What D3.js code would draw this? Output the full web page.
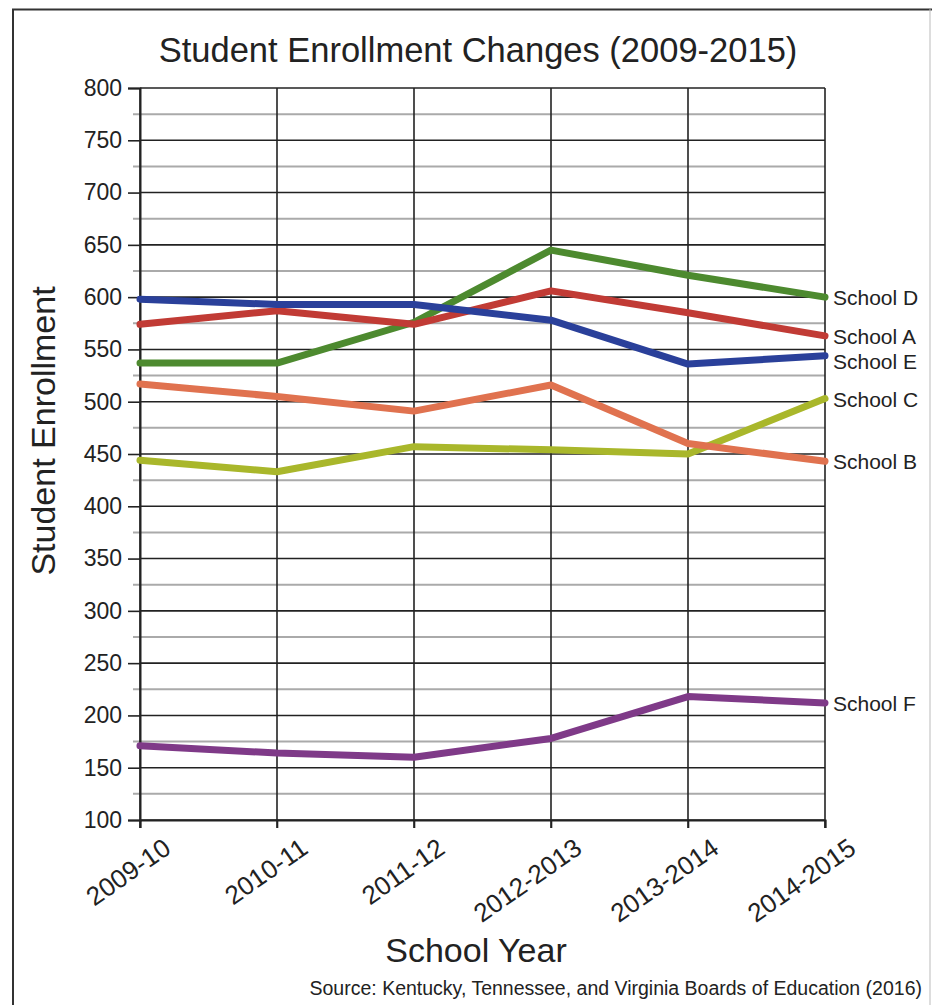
<!DOCTYPE html>
<html>
<head>
<meta charset="utf-8">
<script src="https://cdn.jsdelivr.net/npm/d3@7"></script>
<style>
  html, body { margin: 0; padding: 0; background: #fff; }
  svg { display: block; font-family: "Liberation Sans", Arial, Helvetica, sans-serif; }
</style>
</head>
<body>
<svg id="chart" width="932" height="1005"></svg>
<script>
// School years on the x axis
const years = ["2009-10", "2010-11", "2011-12", "2012-2013", "2013-2014", "2014-2015"];

// Enrollment per school, one value per school year
const schoolA = [574, 587, 574, 606, 585, 563];
const schoolB = [517, 505, 491, 516, 460, 443];
const schoolC = [444, 433, 457, 454, 450, 503];
const schoolD = [537, 537, 576, 645, 621, 600];
const schoolE = [598, 593, 593, 578, 536, 544];
const schoolF = [171, 164, 160, 178, 218, 212];

const seriesNames = ["School D", "School A", "School E", "School C", "School B", "School F"];
const seriesValues = [schoolD, schoolA, schoolE, schoolC, schoolB, schoolF];
const seriesColors = ["#4d8a2f", "#c13b35", "#2a409a", "#a9b72b", "#e0724f", "#7f3a88"];

// y axis ticks
const majorTicks = d3.range(100, 801, 50);
const minorTicks = d3.range(125, 800, 50);

const svg = d3.select("#chart");
const FONT = "Liberation Sans, Arial, sans-serif";

// outer frame
svg.append("line").attr("x1", 13).attr("x2", 13).attr("y1", 9).attr("y2", 1005)
  .attr("stroke", "#333").attr("stroke-width", 2);
svg.append("line").attr("x1", 12).attr("x2", 932).attr("y1", 9.5).attr("y2", 9.5)
  .attr("stroke", "#333").attr("stroke-width", 2);
svg.append("line").attr("x1", 930).attr("x2", 930).attr("y1", 9).attr("y2", 1005)
  .attr("stroke", "#bbb").attr("stroke-width", 1);

const plotLeft = 140, plotRight = 825, plotTop = 88, plotBottom = 820;

const x = d3.scalePoint().domain(years).range([plotLeft, plotRight]);
const y = d3.scaleLinear().domain([100, 800]).range([plotBottom, plotTop]);

const grid = svg.append("g");

// minor horizontal gridlines
grid.selectAll("line.minor").data(minorTicks).join("line")
  .attr("class", "minor")
  .attr("x1", plotLeft - 7).attr("x2", plotRight)
  .attr("y1", d => y(d)).attr("y2", d => y(d))
  .attr("stroke", "#aaa").attr("stroke-width", 2);

// major horizontal gridlines
grid.selectAll("line.major").data(majorTicks).join("line")
  .attr("class", "major")
  .attr("x1", plotLeft).attr("x2", plotRight)
  .attr("y1", d => y(d)).attr("y2", d => y(d))
  .attr("stroke", "#222").attr("stroke-width", 1.6);

// vertical gridlines at each school year
grid.selectAll("line.vert").data(years).join("line")
  .attr("class", "vert")
  .attr("x1", d => x(d)).attr("x2", d => x(d))
  .attr("y1", plotTop).attr("y2", plotBottom + 8)
  .attr("stroke", "#222").attr("stroke-width", 1.6);

// y axis
const yAxis = svg.append("g")
  .attr("transform", `translate(${plotLeft},0)`)
  .call(d3.axisLeft(y).tickValues(majorTicks).tickSize(12).tickPadding(6).tickFormat(d3.format("d")));
yAxis.select(".domain").attr("stroke", "#222").attr("stroke-width", 2);
yAxis.selectAll(".tick line").attr("stroke", "#222").attr("stroke-width", 1.6);
yAxis.selectAll(".tick text").attr("font-size", 23).attr("fill", "#222")
  .attr("font-family", FONT);

// x axis with slanted year labels
const xAxis = svg.append("g")
  .attr("transform", `translate(0,${plotBottom})`)
  .call(d3.axisBottom(x).tickSize(8).tickPadding(4));
xAxis.select(".domain").attr("stroke", "#222").attr("stroke-width", 2);
xAxis.selectAll(".tick line").attr("stroke", "#222").attr("stroke-width", 1.6);
xAxis.selectAll(".tick text")
  .attr("font-size", 26).attr("fill", "#222")
  .attr("font-family", FONT)
  .attr("text-anchor", "end")
  .attr("y", 0)
  .attr("dy", null)
  .attr("transform", "translate(32,32) rotate(-35)");

// series lines
const line = d3.line().x((d, i) => x(years[i])).y(d => y(d));
svg.append("g").selectAll("path").data(seriesValues).join("path")
  .attr("d", d => line(d))
  .attr("fill", "none")
  .attr("stroke", (d, i) => seriesColors[i])
  .attr("stroke-width", 7)
  .attr("stroke-linejoin", "round")
  .attr("stroke-linecap", "round");

// end labels, nudged apart when they would overlap
const labels = seriesNames.map((n, i) => ({ name: n, ty: y(seriesValues[i][seriesValues[i].length - 1]) }))
  .sort((a, b) => a.ty - b.ty);
for (let k = 1; k < labels.length; k++) {
  if (labels[k].ty - labels[k - 1].ty < 25) labels[k].ty = labels[k - 1].ty + 25;
}
svg.append("g").selectAll("text").data(labels).join("text")
  .attr("x", plotRight + 8).attr("y", d => d.ty)
  .attr("dy", "0.38em")
  .attr("font-size", 21).attr("fill", "#222")
  .text(d => d.name);

// titles
svg.append("text").attr("x", 478).attr("y", 62).attr("text-anchor", "middle")
  .attr("font-size", 34.5).attr("fill", "#222").text("Student Enrollment Changes (2009-2015)");

svg.append("text").attr("transform", "translate(55,431) rotate(-90)").attr("text-anchor", "middle")
  .attr("font-size", 34).attr("fill", "#222").text("Student Enrollment");

svg.append("text").attr("x", 476).attr("y", 962).attr("text-anchor", "middle")
  .attr("font-size", 34).attr("fill", "#222").text("School Year");

svg.append("text").attr("x", 922).attr("y", 995).attr("text-anchor", "end")
  .attr("font-size", 19.5).attr("fill", "#222")
  .text("Source: Kentucky, Tennessee, and Virginia Boards of Education (2016)");
</script>
</body>
</html>
